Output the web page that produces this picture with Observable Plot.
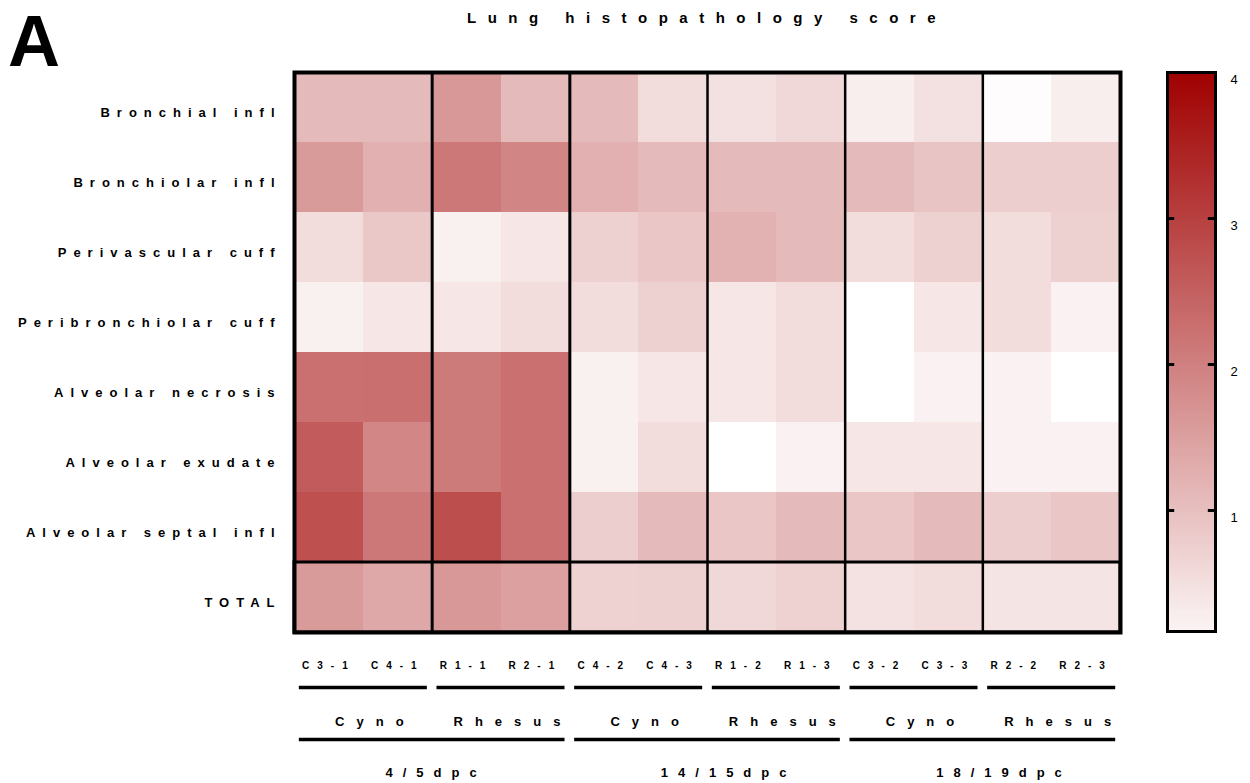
<!DOCTYPE html>
<html>
<head>
<meta charset="utf-8">
<script src="https://cdn.jsdelivr.net/npm/d3@7"></script>
<script src="https://cdn.jsdelivr.net/npm/@observablehq/plot@0.6"></script>
<style>
body { margin: 0; background: #fff; }
#wrap { position: relative; width: 1250px; height: 783px; font-family: "Liberation Sans", Arial, sans-serif; color: #000; }
#wrap svg { position: absolute; overflow: visible; }
.panel { position: absolute; left: 8px; top: 0; font-size: 72px; font-weight: bold; line-height: normal; z-index: 2; }
.title { position: absolute; left: 294px; width: 826px; top: 10px; text-align: center; font-size: 15px; font-weight: bold; letter-spacing: 11.5px; line-height: 16px; z-index: 2; }
</style>
</head>
<body>
<div id="wrap">
  <div class="panel">A</div>
  <div class="title">Lung histopathology score</div>
</div>
<script>
// ---- data ----
const rows = ["Bronchial infl", "Bronchiolar infl", "Perivascular cuff", "Peribronchiolar cuff",
              "Alveolar necrosis", "Alveolar exudate", "Alveolar septal infl", "TOTAL"];
const samples = ["C3-1", "C4-1", "R1-1", "R2-1", "C4-2", "C4-3", "R1-2", "R1-3", "C3-2", "C3-3", "R2-2", "R2-3"];
const species = ["Cyno", "Rhesus", "Cyno", "Rhesus", "Cyno", "Rhesus"];
const timepoints = ["4/5dpc", "14/15dpc", "18/19dpc"];

const bronchialInfl       = [1.08, 1.08, 1.62, 1.08, 1.08, 0.55, 0.49, 0.61, 0.27, 0.49, 0.05, 0.27];
const bronchiolarInfl     = [1.58, 1.24, 2.12, 1.91, 1.24, 1.08, 1.08, 1.08, 1.08, 0.93, 0.77, 0.77];
const perivascularCuff    = [0.55, 0.86, 0.24, 0.39, 0.74, 0.89, 1.21, 1.08, 0.55, 0.74, 0.55, 0.74];
const peribronchiolarCuff = [0.24, 0.39, 0.39, 0.55, 0.55, 0.74, 0.39, 0.55, 0.00, 0.39, 0.55, 0.20];
const alveolarNecrosis    = [2.24, 2.26, 2.09, 2.24, 0.24, 0.39, 0.39, 0.55, 0.00, 0.20, 0.20, 0.00];
const alveolarExudate     = [2.56, 1.90, 2.09, 2.24, 0.24, 0.55, 0.00, 0.20, 0.39, 0.39, 0.20, 0.20];
const alveolarSeptalInfl  = [2.75, 2.12, 2.78, 2.24, 0.77, 1.08, 0.89, 1.08, 0.89, 1.08, 0.77, 0.89];
const total               = [1.58, 1.36, 1.62, 1.49, 0.71, 0.74, 0.61, 0.70, 0.47, 0.55, 0.42, 0.42];

const colorbarTicks = [1, 2, 3, 4];
const colorbarDomain = [0.171, 4];

// ---- build ----
const scores = [bronchialInfl, bronchiolarInfl, perivascularCuff, peribronchiolarCuff,
                alveolarNecrosis, alveolarExudate, alveolarSeptalInfl, total];
const cells = rows.flatMap((r, i) => scores[i].map((v, j) => ({row: r, col: j, value: v})));
const separators = [2, 4, 6, 8, 10].map((x, i) => ({x, w: i < 2 ? 3 : 2.5}));
const colorScale = {type: "linear", domain: [0, 4], range: ["#ffffff", "#a00000"]};
const font = "Liberation Sans, Arial, sans-serif";
const wrap = document.getElementById("wrap");

const main = Plot.plot({
  width: 1250, height: 640,
  marginLeft: 294, marginRight: 130, marginTop: 72, marginBottom: 8,
  x: {domain: [0, samples.length], axis: null},
  y: {domain: rows, padding: 0, axis: null},
  color: colorScale,
  style: {fontFamily: font, background: "transparent", color: "#000"},
  marks: [
    Plot.barX(cells, {x1: "col", x2: d => d.col + 1, y: "row", fill: "value", inset: 0, shapeRendering: "crispEdges"}),
    Plot.ruleX(separators, {x: "x", strokeWidth: "w", stroke: "#000"}),
    Plot.barX([{row: rows[rows.length - 1]}], {x1: () => 0, x2: () => samples.length, y: "row", fill: "none", stroke: "#000", strokeWidth: 3, inset: 0}),
    Plot.frame({stroke: "#000", strokeWidth: 4}),
    Plot.text(rows, {y: d => d, frameAnchor: "left", textAnchor: "end", dx: -13, dy: 5, fontSize: 13, fontWeight: "bold", fill: "#000"})
  ]
});
main.style.left = "0px"; main.style.top = "0px";
wrap.appendChild(main);

const annot = Plot.plot({
  width: 1250, height: 151,
  marginLeft: 294, marginRight: 130, marginTop: 0, marginBottom: 0,
  x: {domain: [0, samples.length], axis: null},
  y: {type: "identity", axis: null},
  style: {fontFamily: font, background: "transparent", color: "#000"},
  marks: [
    Plot.text(samples, {x: (d, i) => i + 0.5, y: () => 33, fontSize: 10, fontWeight: "bold", fill: "#000"}),
    Plot.ruleY(species, {x1: (d, i) => 2 * i + 0.07, x2: (d, i) => 2 * i + 2 - 0.07, y: () => 55, stroke: "#000", strokeWidth: 3.5}),
    Plot.text(species, {x: (d, i) => 2 * i + 1, y: () => 89, dx: 12, fontSize: 13, fontWeight: "bold", fill: "#000"}),
    Plot.ruleY(timepoints, {x1: (d, i) => 4 * i + 0.07, x2: (d, i) => 4 * i + 4 - 0.07, y: () => 107, stroke: "#000", strokeWidth: 3.5}),
    Plot.text(timepoints, {x: (d, i) => 4 * i, y: () => 140, dx: 91, textAnchor: "start", fontSize: 13, fontWeight: "bold", fill: "#000"})
  ]
});
annot.style.left = "0px"; annot.style.top = "632px";
wrap.appendChild(annot);

const nSteps = 160;
const ramp = d3.range(nSteps).map(i => ({
  y1: colorbarDomain[0] + (colorbarDomain[1] - colorbarDomain[0]) * i / nSteps,
  y2: colorbarDomain[0] + (colorbarDomain[1] - colorbarDomain[0]) * (i + 1) / nSteps
}));
const bar = Plot.plot({
  width: 120, height: 783,
  marginLeft: 37, marginRight: 35, marginTop: 72, marginBottom: 152,
  x: {domain: [0, 1], axis: null},
  y: {domain: colorbarDomain, axis: null},
  color: colorScale,
  style: {fontFamily: font, background: "transparent", color: "#000"},
  marks: [
    Plot.rect(ramp, {x1: () => 0, x2: () => 1, y1: "y1", y2: "y2", fill: d => (d.y1 + d.y2) / 2, shapeRendering: "crispEdges"}),
    Plot.frame({stroke: "#000", strokeWidth: 3}),
    Plot.ruleY(colorbarTicks.slice(0, 3), {y: d => d, x1: () => 0, x2: () => 0.15, stroke: "#000", strokeWidth: 3}),
    Plot.ruleY(colorbarTicks.slice(0, 3), {y: d => d, x1: () => 0.85, x2: () => 1, stroke: "#000", strokeWidth: 3}),
    Plot.text(colorbarTicks, {y: d => d, frameAnchor: "right", textAnchor: "start", dx: 15, dy: 7, fontSize: 13, fill: "#000"})
  ]
});
bar.style.left = "1130px"; bar.style.top = "0px";
wrap.appendChild(bar);

// letter spacing matching the reference typography
const spacing = new Map([
  ...rows.map(r => [r, "7px"]),
  ...samples.map(s => [s, "8px"]),
  ...species.map(s => [s, "12px"]),
  ...timepoints.map(t => [t, "10px"])
]);
d3.select(wrap).selectAll("svg text").each(function() {
  const t = this.textContent;
  if (spacing.has(t)) this.style.letterSpacing = spacing.get(t);
});
</script>
</body>
</html>
